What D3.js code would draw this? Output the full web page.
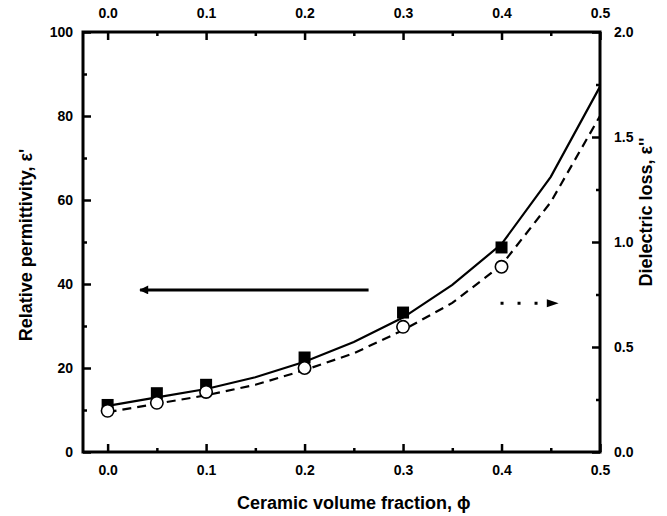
<!DOCTYPE html>
<html>
<head>
<meta charset="utf-8">
<script src="https://cdn.jsdelivr.net/npm/d3@7"></script>
<style>
  body { margin: 0; background: #fff; }
  text { font-family: "Liberation Sans", Arial, sans-serif; font-weight: bold; fill: #000; }
</style>
</head>
<body>
<div id="chart"></div>
<script>
// measured permittivity (filled squares) and loss (open circles)
const phiPoints = [0.0, 0.05, 0.1, 0.2, 0.3, 0.4];
const permittivity = [11.2, 14.0, 16.0, 22.5, 33.2, 48.7];
const loss = [0.196, 0.234, 0.286, 0.40, 0.596, 0.882];

// model curves
const phiModel = [0.0, 0.05, 0.1, 0.15, 0.2, 0.25, 0.3, 0.35, 0.4, 0.45, 0.5];
const permModel = [11.0, 13.0, 15.0, 17.8, 21.5, 26.2, 32.0, 39.8, 49.5, 65.5, 87.0];
const lossModel = [0.19, 0.23, 0.27, 0.32, 0.39, 0.47, 0.58, 0.71, 0.89, 1.19, 1.60];

const xTicks = [0.0, 0.1, 0.2, 0.3, 0.4, 0.5];
const leftTicks = [0, 20, 40, 60, 80, 100];
const rightTicks = [0.0, 0.5, 1.0, 1.5, 2.0];

const W = 667, H = 516;
const margin = {top: 32, right: 67, bottom: 64, left: 83};
const width = W - margin.left - margin.right;
const height = H - margin.top - margin.bottom;

const svg = d3.select("#chart").append("svg")
    .attr("width", W)
    .attr("height", H);

const g = svg.append("g")
    .attr("transform", `translate(${margin.left},${margin.top})`);

// scales
const x = d3.scaleLinear().domain([-0.025, 0.5]).range([0, width]);
const yL = d3.scaleLinear().domain([0, 100]).range([height, 0]);
const yR = d3.scaleLinear().domain([0, 2.0]).range([height, 0]);

const fmt1 = d3.format(".1f");

// axes (ticks point inward)
function styleAxis(sel) {
    sel.select(".domain").remove();
    sel.selectAll(".tick line").attr("stroke", "#000").attr("stroke-width", 2.5);
    sel.selectAll(".tick text").style("font-size", "14px");
}

const minorX = d3.range(0.05, 0.5, 0.1);
const minorL = d3.range(10, 100, 20);
const minorR = d3.range(0.25, 2.0, 0.5);

// bottom
g.append("g").attr("transform", `translate(0,${height})`)
    .call(d3.axisBottom(x).tickValues(xTicks).tickFormat(fmt1).tickSizeInner(-8).tickPadding(13))
    .call(styleAxis);
g.append("g").attr("transform", `translate(0,${height})`)
    .call(d3.axisBottom(x).tickValues(minorX).tickFormat("").tickSizeInner(-4))
    .call(styleAxis);
// top
g.append("g")
    .call(d3.axisTop(x).tickValues(xTicks).tickFormat(fmt1).tickSizeInner(-8).tickPadding(14))
    .call(styleAxis);
g.append("g")
    .call(d3.axisTop(x).tickValues(minorX).tickFormat("").tickSizeInner(-4))
    .call(styleAxis);
// left
g.append("g")
    .call(d3.axisLeft(yL).tickValues(leftTicks).tickSizeInner(-8).tickPadding(10))
    .call(styleAxis);
g.append("g")
    .call(d3.axisLeft(yL).tickValues(minorL).tickFormat("").tickSizeInner(-4))
    .call(styleAxis);
// right
g.append("g").attr("transform", `translate(${width},0)`)
    .call(d3.axisRight(yR).tickValues(rightTicks).tickFormat(fmt1).tickSizeInner(-8).tickPadding(14))
    .call(styleAxis);
g.append("g").attr("transform", `translate(${width},0)`)
    .call(d3.axisRight(yR).tickValues(minorR).tickFormat("").tickSizeInner(-4))
    .call(styleAxis);

// frame
g.append("rect")
    .attr("width", width)
    .attr("height", height)
    .attr("fill", "none")
    .attr("stroke", "#000")
    .attr("stroke-width", 3);

// model lines
const permLine = d3.line().x((d, i) => x(phiModel[i])).y(d => yL(d));
const lossLine = d3.line().x((d, i) => x(phiModel[i])).y(d => yR(d));

g.append("path")
    .datum(permModel)
    .attr("d", permLine)
    .attr("fill", "none")
    .attr("stroke", "#000")
    .attr("stroke-width", 2.2);

g.append("path")
    .datum(lossModel)
    .attr("d", lossLine)
    .attr("fill", "none")
    .attr("stroke", "#000")
    .attr("stroke-width", 2.2)
    .attr("stroke-dasharray", "9,6");

// markers
const sq = 12;
g.selectAll(".sq")
    .data(permittivity)
    .enter().append("rect")
    .attr("class", "sq")
    .attr("x", (d, i) => x(phiPoints[i]) - sq / 2)
    .attr("y", d => yL(d) - sq / 2)
    .attr("width", sq)
    .attr("height", sq)
    .attr("fill", "#000");

g.selectAll(".circ")
    .data(loss)
    .enter().append("circle")
    .attr("class", "circ")
    .attr("cx", (d, i) => x(phiPoints[i]))
    .attr("cy", d => yR(d))
    .attr("r", 6.2)
    .attr("fill", "#fff")
    .attr("stroke", "#000")
    .attr("stroke-width", 1.6);

// arrows
const defs = svg.append("defs");
defs.append("marker")
    .attr("id", "head")
    .attr("viewBox", "0 0 10 10")
    .attr("refX", 9).attr("refY", 5)
    .attr("markerWidth", 4.5).attr("markerHeight", 3)
    .attr("markerUnits", "strokeWidth")
    .attr("orient", "auto")
    .append("path")
    .attr("d", "M0,0L10,5L0,10Z")
    .attr("fill", "#000");

g.append("line")
    .attr("x1", x(0.265)).attr("y1", yL(38.6))
    .attr("x2", x(0.033)).attr("y2", yL(38.6))
    .attr("stroke", "#000")
    .attr("stroke-width", 3)
    .attr("marker-end", "url(#head)");

g.append("line")
    .attr("x1", x(0.399)).attr("y1", yL(35.4))
    .attr("x2", x(0.448)).attr("y2", yL(35.4))
    .attr("stroke", "#000")
    .attr("stroke-width", 3)
    .attr("stroke-dasharray", "3,14");

g.append("path")
    .attr("d", `M${x(0.446)},${yL(35.4) - 4}L${x(0.458)},${yL(35.4)}L${x(0.446)},${yL(35.4) + 4}Z`)
    .attr("fill", "#000");

// axis titles
svg.append("text")
    .attr("x", margin.left + x(0.25))
    .attr("y", 509)
    .attr("text-anchor", "middle")
    .style("font-size", "18px")
    .text("Ceramic volume fraction, ϕ");

svg.append("text")
    .attr("transform", `translate(32,245) rotate(-90)`)
    .attr("text-anchor", "middle")
    .style("font-size", "18px")
    .text("Relative permittivity, ε'");

svg.append("text")
    .attr("transform", `translate(652,212) rotate(-90)`)
    .attr("text-anchor", "middle")
    .style("font-size", "18px")
    .text("Dielectric loss, ε''");
</script>
</body>
</html>
